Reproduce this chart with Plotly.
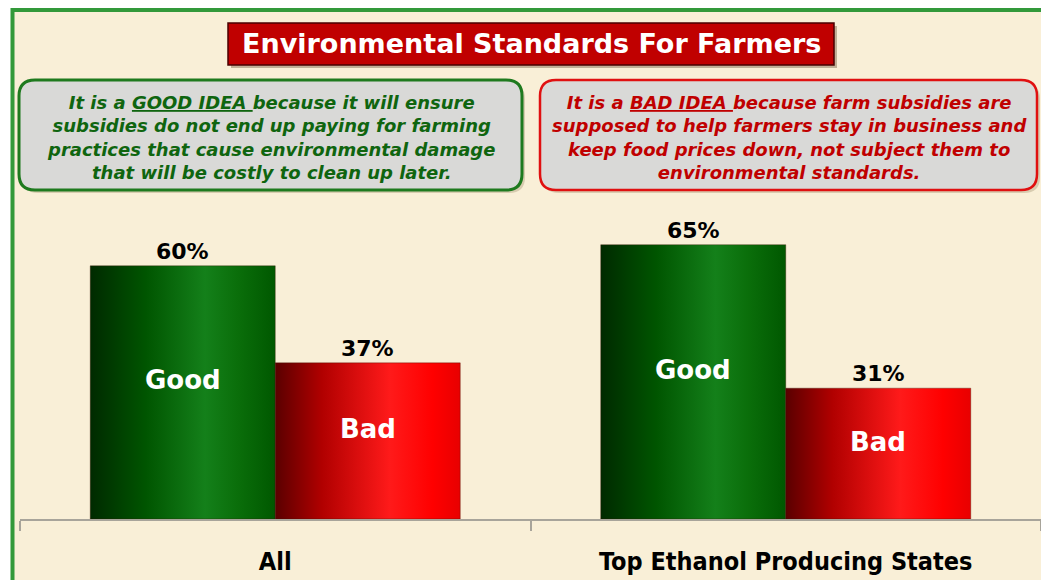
import plotly.graph_objects as go

# ---- data ----
categories = ["All", "Top Ethanol Producing States"]
series_names = ["Good", "Bad"]
good_values = [60, 65]
bad_values = [37, 31]

title_text = "Environmental Standards For Farmers"
good_note = ("It is a <u>GOOD IDEA </u>because it will ensure<br>"
             "subsidies do not end up paying for farming<br>"
             "practices that cause environmental damage<br>"
             "that will be costly to clean up later.")
bad_note = ("It is a <u>BAD IDEA </u>because farm subsidies are<br>"
            "supposed to help farmers stay in business and<br>"
            "keep food prices down, not subject them to<br>"
            "environmental standards.")

# ---- layout helpers (pixel -> paper) ----
W, H = 1041, 580
PL, PR, PT, PB = 20, 1041, 97, 519


def px(x):
    return (x - PL) / (PR - PL)


def py(y):
    return (PB - y) / (PB - PT)


def rounded_path(x0, y0, x1, y1, r):
    a, b, c, d = px(x0), py(y0), px(x1), py(y1)
    rx = r / (PR - PL)
    ry = r / (PB - PT)
    return (f"M {a+rx},{b} L {c-rx},{b} Q {c},{b} {c},{b-ry} "
            f"L {c},{d+ry} Q {c},{d} {c-rx},{d} L {a+rx},{d} "
            f"Q {a},{d} {a},{d+ry} L {a},{b-ry} Q {a},{b} {a+rx},{b} Z")


BAR_W = 0.3624
green_scale = [[0, "#002a00"], [0.3, "#005500"], [0.62, "#14801a"], [0.8, "#0a6e0a"], [1, "#005800"]]
red_scale = [[0, "#5a0000"], [0.25, "#b00000"], [0.62, "#ff1a1a"], [0.85, "#ff0000"], [1, "#e80000"]]

fig = go.Figure()

for si, (name, vals, scale, col) in enumerate([
        (series_names[0], good_values, green_scale, "#0a6e0a"),
        (series_names[1], bad_values, red_scale, "#ff0000")]):
    for ci, v in enumerate(vals):
        x0 = ci - BAR_W if si == 0 else ci
        x1 = x0 + BAR_W
        fig.add_trace(go.Scatter(
            x=[x0, x0, x1, x1, x0], y=[0, v, v, 0, 0],
            mode="lines", fill="toself",
            fillgradient=dict(type="horizontal", colorscale=scale),
            fillcolor=col,
            line=dict(width=0.6, color="rgba(60,20,0,0.6)"),
            hoverinfo="skip", showlegend=False, name=name))
        xc = (x0 + x1) / 2
        fig.add_annotation(x=xc, y=v, text=f"<b>{v}%</b>", showarrow=False,
                           xanchor="center", yanchor="bottom", yshift=0,
                           font=dict(family="DejaVu Sans", size=22, color="#000000"))
        fig.add_annotation(x=xc, y=v / 2, text=f"<b>{name}</b>", showarrow=False,
                           xanchor="center", yanchor="middle", yshift=12,
                           font=dict(family="DejaVu Sans", size=26, color="#ffffff"))

shapes = []
# parchment background with green frame
shapes.append(dict(type="rect", xref="paper", yref="paper", layer="below",
                   x0=px(12.5), y0=py(610), x1=px(1060), y1=py(10),
                   fillcolor="#F9EFD7", line=dict(color="#33993A", width=4)))
# title box shadow + box
shapes.append(dict(type="rect", xref="paper", yref="paper", layer="below",
                   x0=px(231), y0=py(68), x1=px(837), y1=py(26),
                   fillcolor="rgba(90,60,30,0.35)", line=dict(width=0)))
shapes.append(dict(type="rect", xref="paper", yref="paper", layer="below",
                   x0=px(228), y0=py(65), x1=px(834), y1=py(23),
                   fillcolor="#C00000", line=dict(color="#4a0000", width=1.5)))
# callout shadows + boxes
for (x0, x1, lc, lw) in [(19, 522, "#1E7A1E", 3), (540, 1037, "#E01010", 2.5)]:
    shapes.append(dict(type="path", xref="paper", yref="paper", layer="below",
                       path=rounded_path(x0 + 3, 83, x1 + 3, 193, 16),
                       fillcolor="rgba(120,100,60,0.25)", line=dict(width=0)))
    shapes.append(dict(type="path", xref="paper", yref="paper", layer="below",
                       path=rounded_path(x0, 80, x1, 190, 16),
                       fillcolor="#D9D9D7", line=dict(color=lc, width=lw)))

fig.add_annotation(xref="paper", yref="paper", x=px(531), y=py(44), text=f"<b>{title_text}</b>",
                   showarrow=False, xanchor="center", yanchor="middle",
                   font=dict(family="DejaVu Sans", size=27, color="#ffffff"))
fig.add_annotation(xref="paper", yref="paper", x=px(271), y=py(137), text=f"<b><i>{good_note}</i></b>",
                   showarrow=False, align="center", xanchor="center", yanchor="middle",
                   font=dict(family="DejaVu Sans", size=18, color="#0F650F"))
fig.add_annotation(xref="paper", yref="paper", x=px(789), y=py(137), text=f"<b><i>{bad_note}</i></b>",
                   showarrow=False, align="center", xanchor="center", yanchor="middle",
                   font=dict(family="DejaVu Sans", size=18, color="#C00000"))

fig.update_layout(
    width=W, height=H,
    margin=dict(l=PL, r=W - PR, t=PT, b=H - PB, pad=0),
    paper_bgcolor="#ffffff", plot_bgcolor="rgba(0,0,0,0)",
    shapes=shapes, showlegend=False,
    xaxis=dict(range=[-0.5, 1.5], tickmode="array", tickvals=[0, 1],
               ticktext=[f"<b>{c}</b>" for c in categories], ticks="",
               showline=True, linecolor="#A8A49A", linewidth=2, showgrid=False, zeroline=False,
               ticklabelstandoff=19,
               tickfont=dict(family="DejaVu Sans Condensed, Liberation Sans Narrow, DejaVu Sans", size=25, color="#000000"),
               minor=dict(tickmode="linear", tick0=-0.5, dtick=1, ticks="outside", ticklen=10,
                          tickcolor="#A8A49A", tickwidth=1.5, showgrid=False)),
    yaxis=dict(range=[0, 100], visible=False, showgrid=False, zeroline=False),
)

fig.write_html("out.html", config={"displayModeBar": False},
               post_script="document.body.style.margin='0px';")
